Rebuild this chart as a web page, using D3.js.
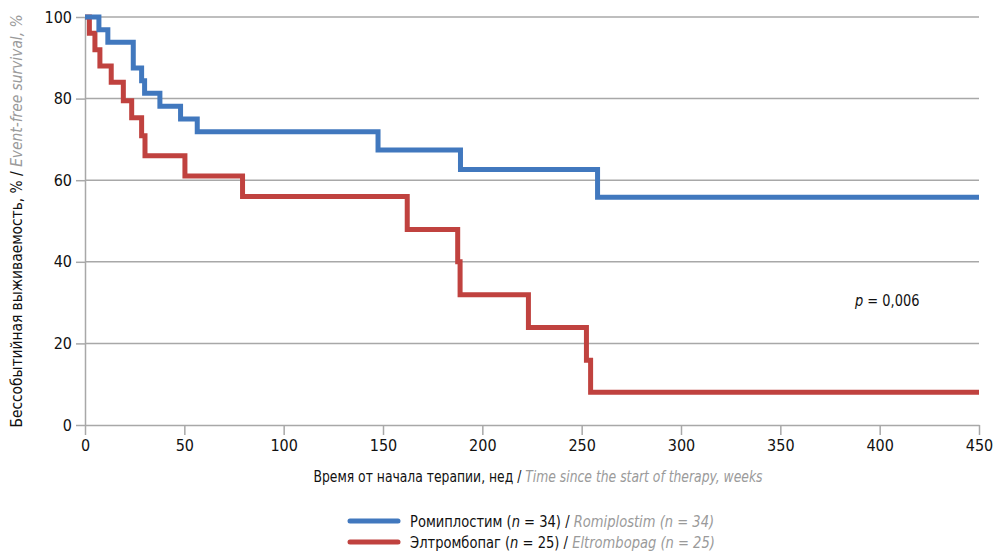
<!DOCTYPE html>
<html>
<head>
<meta charset="utf-8">
<script src="https://cdn.jsdelivr.net/npm/d3@7"></script>
<style>
  html, body { margin: 0; padding: 0; background: #fff; }
  svg { display: block; }
  text { font-family: "Liberation Sans Narrow", "DejaVu Sans Condensed", "Roboto", sans-serif; }
</style>
</head>
<body>
<svg id="chart" width="994" height="553"></svg>
<script>
// ---- data ----
const xTicks = [0, 50, 100, 150, 200, 250, 300, 350, 400, 450];
const yTicks = [0, 20, 40, 60, 80, 100];

const romiTimes  = [0, 7, 11.5, 24.3, 28.5, 30, 37.7, 48.1, 56.5, 147.5, 189, 258, 450];
const romiValues = [100, 96.9, 93.8, 87.5, 84.4, 81.3, 78.1, 75, 71.9, 67.4, 62.6, 55.8, 55.8];

const eltrTimes  = [0, 2.2, 5, 7.5, 13.2, 19.3, 23.5, 28.5, 30.2, 50.3, 79.3, 162.2, 187.6, 188.8, 223.2, 252.4, 254.5, 450];
const eltrValues = [100, 96, 92, 88, 84, 79.5, 75.3, 70.9, 66, 61, 56, 47.9, 40, 31.9, 23.9, 15.9, 8, 8];

const seriesNames = [
  { ru: "Ромиплостим", en: "Romiplostim", n: 34 },
  { ru: "Элтромбопаг", en: "Eltrombopag", n: 25 }
];
const yTitleRu = "Бессобытийная выживаемость, % / ";
const yTitleEn = "Event-free survival, %";
const xTitleRu = "Время от начала терапии, нед / ";
const xTitleEn = "Time since the start of therapy, weeks";
const pLabel = "0,006";

// ---- styles ----
const colors = ["#4178be", "#c0423f"];
const gridColor = "#a8a8a8";
const greyText = "#9a9a9a";

const svg = d3.select("#chart");
const x = d3.scaleLinear().domain([0, 450]).range([85, 979]);
const y = d3.scaleLinear().domain([0, 100]).range([425, 17]);

// gridlines
svg.append("g").selectAll("line")
  .data(yTicks.filter(d => d > 0))
  .join("line")
  .attr("x1", x(0)).attr("x2", x(450))
  .attr("y1", d => y(d)).attr("y2", d => y(d))
  .attr("stroke", gridColor).attr("stroke-width", 1.5);

// y axis
const yAxis = svg.append("g").attr("transform", `translate(${x(0)},0)`)
  .call(d3.axisLeft(y).tickValues(yTicks).tickSizeInner(9).tickSizeOuter(0).tickPadding(4));
// x axis
const xAxis = svg.append("g").attr("transform", `translate(0,${y(0)})`)
  .call(d3.axisBottom(x).tickValues(xTicks).tickSizeInner(10).tickSizeOuter(0).tickPadding(5));

[yAxis, xAxis].forEach(g => {
  g.selectAll("path.domain").attr("stroke", gridColor).attr("stroke-width", 1.5);
  g.selectAll(".tick line").attr("stroke", gridColor).attr("stroke-width", 1.5);
  g.selectAll(".tick text").attr("fill", "#111").attr("font-size", 16)
    .style("font-family", '"Liberation Sans Narrow", "DejaVu Sans Condensed", sans-serif');
});

// curves
const line = d3.line().x(d => x(d[0])).y(d => y(d[1])).curve(d3.curveStepAfter);
const eltr = eltrTimes.map((t, i) => [t, eltrValues[i]]);
const romi = romiTimes.map((t, i) => [t, romiValues[i]]);
svg.append("path").datum(eltr).attr("d", line)
  .attr("fill", "none").attr("stroke", colors[1]).attr("stroke-width", 5);
svg.append("path").datum(romi).attr("d", line)
  .attr("fill", "none").attr("stroke", colors[0]).attr("stroke-width", 5);

// p-value
const pg = svg.append("g").attr("transform", "translate(855,306) scale(0.9,1)");
const pt = pg.append("text").attr("x", 0).attr("y", 0).attr("font-size", 16).attr("fill", "#111");
pt.append("tspan").attr("font-style", "italic").text("p");
pt.append("tspan").text(" = " + pLabel);

// y title
const ytg = svg.append("g")
  .attr("transform", `translate(22,${(y(0) + y(100)) / 2}) rotate(-90) scale(0.96,1)`);
const yt = ytg.append("text").attr("text-anchor", "middle").attr("font-size", 16);
yt.append("tspan").attr("fill", "#111").text(yTitleRu);
yt.append("tspan").attr("fill", greyText).attr("font-style", "italic").text(yTitleEn);

// x title
const xtg = svg.append("g").attr("transform", "translate(538,482) scale(0.86,1)");
const xt = xtg.append("text").attr("text-anchor", "middle").attr("font-size", 16);
xt.append("tspan").attr("fill", "#111").text(xTitleRu);
xt.append("tspan").attr("fill", greyText).attr("font-style", "italic").text(xTitleEn);

// legend
const leg = svg.append("g");
seriesNames.forEach((s, i) => {
  const cy = 521 + i * 21;
  leg.append("line").attr("x1", 350).attr("x2", 398).attr("y1", cy).attr("y2", cy)
    .attr("stroke", colors[i]).attr("stroke-width", 5).attr("stroke-linecap", "round");
  const tg = leg.append("g").attr("transform", `translate(410,${cy + 6}) scale(0.91,1)`);
  const t = tg.append("text").attr("font-size", 16);
  t.append("tspan").attr("fill", "#111").text(s.ru + " (");
  t.append("tspan").attr("fill", "#111").attr("font-style", "italic").text("n");
  t.append("tspan").attr("fill", "#111").text(" = " + s.n + ") / ");
  t.append("tspan").attr("fill", greyText).attr("font-style", "italic").text(s.en + " (n = " + s.n + ")");
});
</script>
</body>
</html>
